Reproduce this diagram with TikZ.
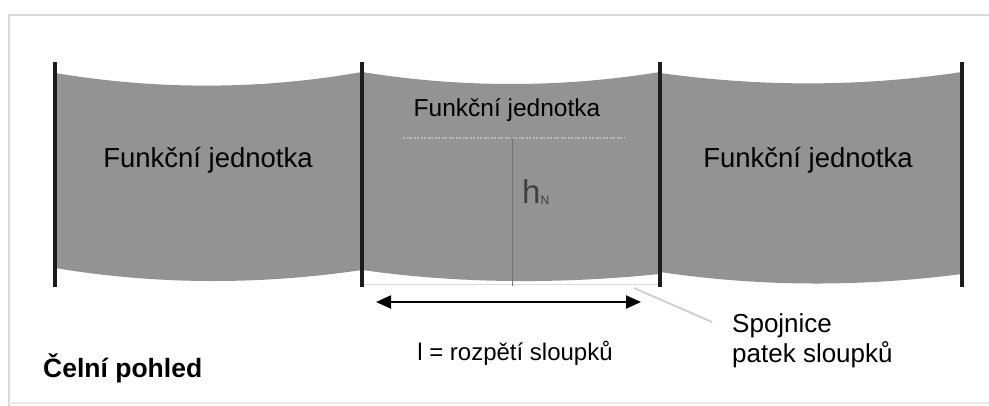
\documentclass[tikz,border=0pt]{standalone}
\usepackage{fontspec}
\setmainfont{Liberation Sans}
\usetikzlibrary{arrows.meta}
\definecolor{panelgray}{HTML}{939393}
\definecolor{framegray}{HTML}{DADADA}
\definecolor{postblack}{HTML}{1C1C1C}
\definecolor{hgray}{HTML}{404040}
\tikzset{
  panel/.style={fill=panelgray, draw=none},
  post/.style={draw=postblack, line width=4pt},
  label/.style={inner sep=0pt, font=\fontsize{26}{30}\selectfont, text=black},
  frameline/.style={draw=framegray, line width=2pt},
}
\begin{document}
\begin{tikzpicture}[x=1pt,y=-1pt]
\useasboundingbox (0,0) rectangle (989,406);
\fill[white] (0,0) rectangle (989,406);
% frame
\draw[frameline] (989,15) -- (9,15) -- (9,406);
\draw[draw=framegray!60, line width=1.5pt] (9,403) -- (989,403);
% panels
\path[panel] (55,73) .. controls (157,90) and (260,90) .. (362,72)
  -- (362,270) .. controls (260,285) and (157,285) .. (55,268) -- cycle;
\path[panel] (362,72) .. controls (461,88) and (561,88) .. (660,72)
  -- (660,274) .. controls (561,284) and (461,284) .. (362,270) -- cycle;
\path[panel] (660,73) .. controls (761,87) and (861,87) .. (962,72)
  -- (962,274) .. controls (861,287) and (761,287) .. (660,272) -- cycle;
% posts
\coordinate (p1t) at (55,62);  \coordinate (p1b) at (55,287);
\coordinate (p2t) at (362,62); \coordinate (p2b) at (362,287);
\coordinate (p3t) at (660,62); \coordinate (p3b) at (660,287);
\coordinate (p4t) at (962,62); \coordinate (p4b) at (962,287);
\draw[post] (p1t) -- (p1b);
\draw[post] (p2t) -- (p2b);
\draw[post] (p3t) -- (p3b);
\draw[post] (p4t) -- (p4b);
% baseline between post feet
\draw[draw=framegray, line width=1pt] (364,285) -- (658,285);
% height marker
\coordinate (dl) at (403,138); \coordinate (dr) at (625,138);
\draw[draw=gray!55, line width=1.2pt, dash pattern=on 2pt off 1.5pt] (dl) -- (dr);
\coordinate (ht) at (512,138); \coordinate (hb) at (512,286);
\draw[draw=gray!90!black, line width=0.8pt] (ht) -- (hb);
\node[anchor=west, inner sep=0pt, text=hgray] (h) at (522,192)
  {\fontsize{33}{33}\selectfont h\raisebox{-1pt}{\fontsize{12}{12}\selectfont N}};
% labels
\node[label, font=\fontsize{27.5}{30}\selectfont] (f1) at (208,160) {Funkční jednotka};
\node[label, font=\fontsize{24.5}{28}\selectfont] (f2) at (507,110) {Funkční jednotka};
\node[label, font=\fontsize{27.5}{30}\selectfont] (f3) at (808,160) {Funkční jednotka};
% span arrow
\coordinate (al) at (376,302); \coordinate (ar) at (641,302);
\draw[line width=2pt, {Triangle[length=15pt,width=13pt]}-{Triangle[length=15pt,width=13pt]}] (al) -- (ar);
\node[label, font=\fontsize{24}{28}\selectfont] (span) at (515,353) {l = rozpětí sloupků};
% leader
\coordinate (lf) at (634,288);
\node[label, anchor=north west, align=left] (spoj) at (732,313) {Spojnice\\patek sloupků};
\draw[draw=framegray!90!gray, line width=2pt] (lf) -- (712,322);
% view title
\node[label, anchor=west, font=\fontsize{26.5}{30}\selectfont\bfseries] (view) at (43,368) {Čelní pohled};
\end{tikzpicture}
\end{document}
